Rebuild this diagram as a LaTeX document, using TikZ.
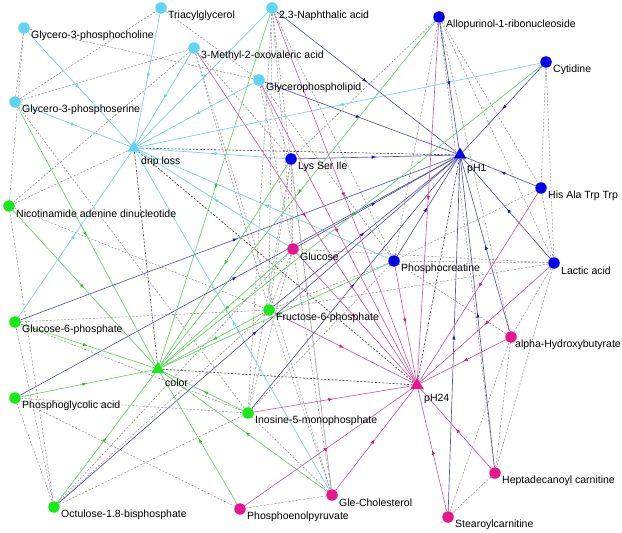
\documentclass[tikz,border=0pt]{standalone}
\usepackage{fontspec}
\setmainfont{Liberation Sans}
\usetikzlibrary{shapes.geometric,arrows.meta,decorations.markings}
\pgfdeclarelayer{bg}
\pgfsetlayers{bg,main}
\definecolor{cyN}{RGB}{95,212,245}
\definecolor{cyE}{RGB}{125,212,232}
\definecolor{blN}{RGB}{0,0,235}
\definecolor{blE}{RGB}{85,85,175}
\definecolor{blA}{RGB}{20,20,210}
\definecolor{grN}{RGB}{25,232,25}
\definecolor{grE}{RGB}{110,214,110}
\definecolor{grA}{RGB}{40,200,40}
\definecolor{pkN}{RGB}{232,22,140}
\definecolor{pkE}{RGB}{205,95,170}
\definecolor{pkA}{RGB}{225,20,130}
\definecolor{dsh}{RGB}{150,150,150}
\definecolor{dkd}{RGB}{60,60,60}
\newcommand\metab[5]{\node[#4] (#1) at (#2,#3) {};\node[lbl] (#1l) at ({#2+7},{#3+8}) {#5};}
\newcommand\trait[5]{\node[#4] (#1) at (#2,#3) {};\node[lbl] (#1l) at ({#2+7},{#3+14}) {#5};}
\tikzset{
  lbl/.style={anchor=west,inner sep=0pt,font=\fontsize{10.5bp}{12bp}\selectfont},
  cN/.style={circle,fill=cyN,minimum size=11.5bp,inner sep=0pt},
  bN/.style={circle,fill=blN,minimum size=11.5bp,inner sep=0pt},
  gN/.style={circle,fill=grN,minimum size=11.5bp,inner sep=0pt},
  pN/.style={circle,fill=pkN,minimum size=11.5bp,inner sep=0pt},
  triN/.style={regular polygon,regular polygon sides=3,minimum size=15bp,inner sep=0pt},
  midarrow/.style={postaction=decorate,decoration={markings,mark=at position 0.5 with {\arrow[#1]{Latex[length=4.5bp,width=3.5bp]}}}},
  ce/.style={draw=cyE,line width=0.7bp,midarrow=cyN},
  be/.style={draw=blE,line width=0.65bp,midarrow=blA},
  ge/.style={draw=grE,line width=0.7bp,midarrow=grA},
  pe/.style={draw=pkE,line width=0.65bp,midarrow=pkA},
  de/.style={draw=dsh,line width=0.55bp,dash pattern=on 2bp off 1.6bp},
  ke/.style={draw=dkd,line width=0.6bp,dash pattern=on 2bp off 1.6bp}
}
\begin{document}
\begin{tikzpicture}[x=1bp,y=-1bp]
\useasboundingbox (0,0) rectangle (622,533);
% cyan group
\metab{tri}{161}{8}{cN}{Triacylglycerol}
\metab{gpc}{24}{28}{cN}{Glycero-3-phosphocholine}
\metab{nap}{272}{8}{cN}{2.3-Naphthalic acid}
\metab{mov}{194}{48}{cN}{3-Methyl-2-oxovaleric acid}
\metab{gpl}{259}{80}{cN}{Glycerophospholipid}
\metab{gps}{15}{102}{cN}{Glycero-3-phosphoserine}
\trait{drip}{134}{148}{triN,fill=cyN}{drip loss}
% blue group
\metab{allo}{439}{17}{bN}{Allopurinol-1-ribonucleoside}
\metab{cyt}{546}{62}{bN}{Cytidine}
\trait{ph1}{460}{155}{triN,fill=blN}{pH1}
\metab{lys}{291}{159}{bN}{Lys Ser Ile}
\metab{his}{541}{188}{bN}{His Ala Trp Trp}
\metab{pcr}{394}{261}{bN}{Phosphocreatine}
\metab{lac}{554}{263}{bN}{Lactic acid}
% green group
\metab{nad}{9}{206}{gN}{Nicotinamide adenine dinucleotide}
\metab{g6p}{15}{322}{gN}{Glucose-6-phosphate}
\metab{f6p}{269}{310}{gN}{Fructose-6-phosphate}
\trait{colr}{158}{369}{triN,fill=grN}{color}
\metab{pga}{15}{398}{gN}{Phosphoglycolic acid}
\metab{imp}{248}{413}{gN}{Inosine-5-monophosphate}
\metab{oct}{54}{507}{gN}{Octulose-1.8-bisphosphate}
% pink group
\metab{glc}{293}{249}{pN}{Glucose}
\node[pN] (ahb) at (511,337) {};
\node[lbl] (ahbl) at (515,345) {alpha-Hydroxybutyrate};
\trait{ph24}{417}{385}{triN,fill=pkN}{pH24}
\metab{hdc}{495}{473}{pN}{Heptadecanoyl carnitine}
\metab{gch}{332}{495}{pN}{Gle-Cholesterol}
\metab{pep}{240}{509}{pN}{Phosphoenolpyruvate}
\metab{stc}{448}{517}{pN}{Stearoylcarnitine}
\begin{pgfonlayer}{bg}
\fill[white] (0,0) rectangle (622,533);
% grey dashed correlations
\foreach \a/\b in {gps/tri,gps/gpc,gpc/gpl,gps/mov,gps/imp,mov/f6p,mov/gch,mov/lys,
  nap/f6p,nap/imp,nap/glc,nap/gch,nap/pcr,gpl/glc,gpl/pcr,gpl/lys,drip/nad,
  allo/lys,allo/pcr,allo/lac,allo/ahb,allo/hdc,allo/his,cyt/lac,cyt/his,
  his/lac,his/pcr,lac/pcr,lac/glc,lac/f6p,lac/ahb,lac/hdc,ahb/hdc,hdc/stc,stc/ahb,
  oct/nad,pga/pep,oct/imp,oct/f6p,oct/glc,gch/imp,gch/f6p,gch/glc,gch/lys,
  lys/glc,lys/f6p,lys/imp,glc/f6p,glc/imp,nad/f6p,nad/mov,g6p/oct,g6p/imp,g6p/f6p,
  pga/imp,pga/oct,gch/pep,tri/gpl,gpc/nad,pcr/f6p,pcr/imp,ahb/pcr}
  {\draw[de] (\a) -- (\b);}
% dark dashed links between traits
\foreach \a/\b in {drip/ph1,drip/colr,drip/ph24,colr/ph24,ph1/ph24}
  {\draw[ke] (\a) -- (\b);}
% drip loss
\foreach \s in {tri,gpc,mov,nap,gpl,gps,cyt,lys,pcr,glc,g6p,gch}
  {\draw[ce] (\s) -- (drip);}
% pH1
\foreach \s in {allo,cyt,nap,gpl,lys,his,lac,g6p,glc,pga,oct,f6p,imp,pcr,stc,hdc,ahb}
  {\draw[be] (\s) -- (ph1);}
% color
\foreach \s in {gps,nap,nad,g6p,pga,oct,pep,imp,gch,f6p,allo,cyt,glc,lys,pcr}
  {\draw[ge] (\s) -- (colr);}
% pH24
\foreach \s in {pcr,his,lac,ahb,imp,hdc,stc,gch,pep,nap,mov,gpl,allo,f6p,glc}
  {\draw[pe] (\s) -- (ph24);}
\end{pgfonlayer}
\end{tikzpicture}
\end{document}
